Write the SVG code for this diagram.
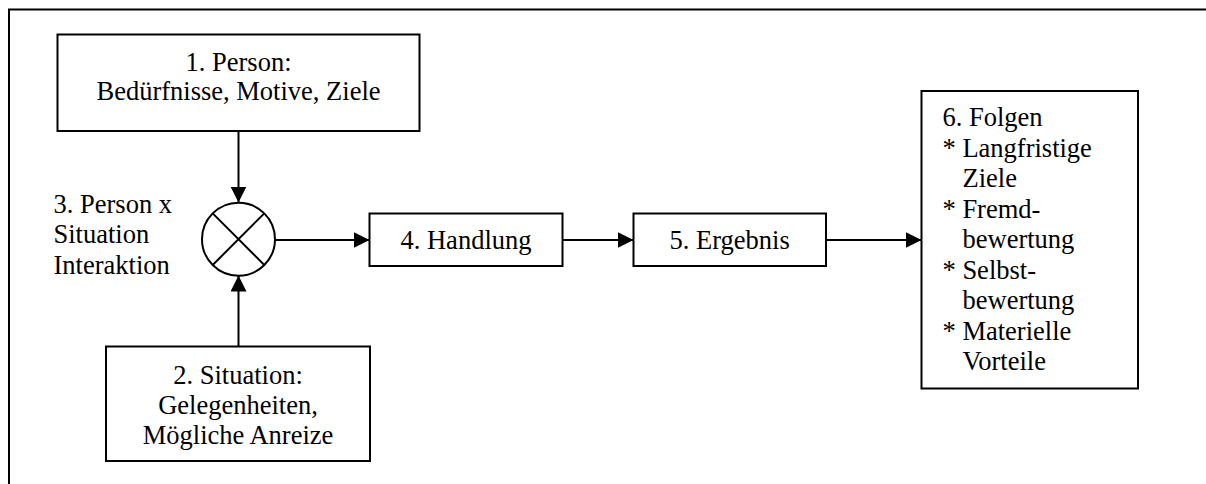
<svg xmlns="http://www.w3.org/2000/svg" width="1206" height="484" viewBox="0 0 1206 484">
  <defs>
    <marker id="arrow" viewBox="0 0 16 16" refX="16" refY="8" markerWidth="16" markerHeight="16" markerUnits="userSpaceOnUse" orient="auto">
      <path d="M0,0 L16,8 L0,16 Z" fill="#000"/>
    </marker>
    <style>
      .box { fill: #fff; stroke: #000; stroke-width: 2; }
      .frame { fill: none; stroke: #000; stroke-width: 2; }
      .link { fill: none; stroke: #000; stroke-width: 2; marker-end: url(#arrow); }
      text { font-family: "Liberation Serif", "Times New Roman", serif; font-size: 26.5px; fill: #000; }
      .c { text-anchor: middle; }
    </style>
  </defs>

  <rect width="1206" height="484" fill="#fff"/>
  <!-- outer frame (top and left edges) -->
  <path class="frame" d="M9,484 V9.5 H1206"/>

  <g id="connectors">
    <line class="link" x1="238.5" y1="131" x2="238.5" y2="202.5"/>
    <line class="link" x1="238.5" y1="346.5" x2="238.5" y2="275.5"/>
    <line class="link" x1="275" y1="240" x2="369.5" y2="240"/>
    <line class="link" x1="562.5" y1="240" x2="633.5" y2="240"/>
    <line class="link" x1="826" y1="240" x2="921.5" y2="240"/>
  </g>

  <g id="person">
    <rect class="box" x="57.5" y="34.5" width="362" height="96.5"/>
    <text class="c" x="238.5" y="70.5">1. Person:</text>
    <text class="c" x="238.5" y="100">Bedürfnisse, Motive, Ziele</text>
  </g>

  <g id="interaction">
    <circle cx="238.5" cy="239.2" r="36.5" fill="#fff" stroke="#000" stroke-width="2"/>
    <path d="M212.7,213.4 L264.3,265 M264.3,213.4 L212.7,265" stroke="#000" stroke-width="2"/>
    <text x="53.5" y="212.5">3. Person x</text>
    <text x="53.5" y="243">Situation</text>
    <text x="53.5" y="273.5">Interaktion</text>
  </g>

  <g id="situation">
    <rect class="box" x="106" y="346.5" width="264" height="114.5"/>
    <text class="c" x="238" y="383.5">2. Situation:</text>
    <text class="c" x="238" y="413.5">Gelegenheiten,</text>
    <text class="c" x="238" y="443.5">Mögliche Anreize</text>
  </g>

  <g id="handlung">
    <rect class="box" x="369.5" y="213.5" width="193" height="52.5"/>
    <text class="c" x="466" y="248.5">4. Handlung</text>
  </g>

  <g id="ergebnis">
    <rect class="box" x="633.5" y="213.5" width="192.5" height="52.5"/>
    <text class="c" x="729.7" y="248.5">5. Ergebnis</text>
  </g>

  <g id="folgen">
    <rect class="box" x="921.5" y="91" width="216.5" height="297.5"/>
    <text x="942.5" y="126.3">6. Folgen</text>
    <text x="942.5" y="156.8">* Langfristige</text>
    <text x="962.5" y="187.3">Ziele</text>
    <text x="942.5" y="217.8">* Fremd-</text>
    <text x="962.5" y="248.3">bewertung</text>
    <text x="942.5" y="278.8">* Selbst-</text>
    <text x="962.5" y="309.3">bewertung</text>
    <text x="942.5" y="339.8">* Materielle</text>
    <text x="962.5" y="370.3">Vorteile</text>
  </g>
</svg>
